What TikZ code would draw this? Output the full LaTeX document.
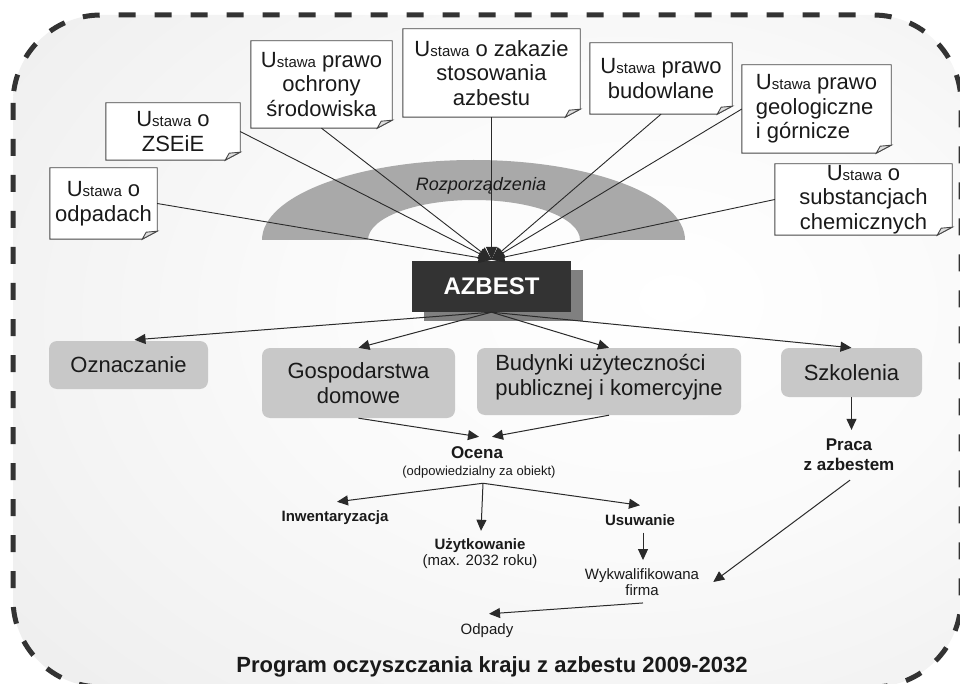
\documentclass[tikz,border=0pt]{standalone}
\usepackage{fontspec}
\setmainfont{Liberation Sans}
\usetikzlibrary{arrows.meta,shadows,backgrounds,calc}
\definecolor{dashcol}{HTML}{333333}
\definecolor{boxgray}{HTML}{C8C8C8}
\definecolor{ringgray}{HTML}{A9A9A9}
\definecolor{ink}{HTML}{1A1A1A}
\definecolor{azdark}{HTML}{333333}
\definecolor{azshadow}{HTML}{808080}
\definecolor{linecol}{HTML}{2A2A2A}
\pgfdeclareradialshading{bgshade}{\pgfpoint{10bp}{4bp}}{color(0bp)=(white); color(18bp)=(white!98!black); color(50bp)=(white!91!black); color(75bp)=(white!89!black)}
\newcommand{\Ust}{U{\fontsize{15}{15}\selectfont stawa}}
\newcommand{\noteoutline}[1]{%
  \draw[noteline] (#1.north west) -- (#1.north east) -- ($(#1.south east)+(0,-8)$) -- ($(#1.south east)+(-15,0)$) -- (#1.south west) -- cycle;
  \draw[noteline, fill=black!12] ($(#1.south east)+(-15,0)$) -- ($(#1.south east)+(-11,-7)$) -- ($(#1.south east)+(0,-8)$) -- cycle;}
\begin{document}
\begin{tikzpicture}[x=1pt,y=-1pt,
  notebox/.style={inner sep=0pt, align=center, text=ink, font=\fontsize{22}{24.5}\selectfont},
  noteline/.style={draw=black!72, line width=0.9pt, fill=white},
  catbox/.style={fill=boxgray, rounded corners=8pt, inner sep=0pt, text=ink, font=\fontsize{22}{25}\selectfont, align=center},
  lbl/.style={inner sep=0pt, text=ink, align=center},
  arr/.style={draw=linecol, line width=1pt, -{Triangle[length=11pt,width=10pt]}},
  lawarr/.style={draw=linecol, line width=0.9pt, -{Triangle[length=13pt,width=11pt]}},
]
\useasboundingbox (0,0) rectangle (960,684);

% background frame
\begin{scope}[on background layer]
  \shade[shading=bgshade, rounded corners=88pt] (13,15) rectangle (961,687);
  \draw[draw=dashcol, line width=5pt, dash pattern=on 17pt off 19pt, rounded corners=88pt] (13,15) rectangle (961,687);
  % ring
  \fill[ringgray] (262,240) arc[start angle=180, end angle=0, x radius=211.5pt, y radius=80pt]
     -- (580,240) arc[start angle=0, end angle=180, x radius=106pt, y radius=40pt] -- cycle;
\end{scope}
\node[inner sep=0pt, text=ink, font=\fontsize{18}{18}\selectfont\itshape] (rz) at (481,186) {Rozporządzenia};

% notes
\node[notebox, minimum width=107pt, minimum height=71pt] (n1) at (103.5,203.5) {\Ust{} o\\odpadach};
\node[notebox, minimum width=134pt, minimum height=57pt] (n2) at (173,131.5) {\Ust{} o\\ZSEiE};
\node[notebox, minimum width=141pt, minimum height=87pt] (n3) at (321.5,84.5) {\Ust{} prawo\\ochrony\\środowiska};
\node[notebox, minimum width=177pt, minimum height=88pt] (n4) at (491.5,73) {\Ust{} o zakazie\\stosowania\\azbestu};
\node[notebox, minimum width=142pt, minimum height=71pt] (n5) at (661,78.5) {\Ust{} prawo\\budowlane};
\node[notebox, align=left, minimum width=149pt, minimum height=88pt] (n6) at (816.5,109) {\Ust{} prawo\\geologiczne\\i górnicze};
\node[notebox, minimum width=177pt, minimum height=71pt] (n7) at (863.5,199.5) {\Ust{} o\\substancjach\\chemicznych};
\begin{scope}[on background layer]
  \noteoutline{n1}\noteoutline{n2}\noteoutline{n3}\noteoutline{n4}
  \noteoutline{n5}\noteoutline{n6}\noteoutline{n7}
\end{scope}

% AZBEST
\node[fill=azdark, text=white, font=\fontsize{24}{24}\selectfont\bfseries, minimum width=159pt, minimum height=51pt, inner sep=0pt,
  general shadow={fill=azshadow, shadow xshift=12pt, shadow yshift=-9pt}] (az) at (491.5,286.5) {AZBEST};

% categories
\node[catbox, minimum width=159pt, minimum height=48pt] (oz) at (128.5,365) {Oznaczanie};
\node[catbox, minimum width=193pt, minimum height=70pt] (gd) at (358.5,383) {Gospodarstwa\\domowe};
\node[catbox, minimum width=264pt, minimum height=67pt, align=left, text depth=13pt] (bu) at (609,381.5) {Budynki użyteczności\\publicznej i komercyjne};
\node[catbox, minimum width=141pt, minimum height=49pt] (sz) at (851.5,372.5) {Szkolenia};

% small labels
\node[lbl, font=\fontsize{17}{17}\selectfont\bfseries] (oc) at (477,453) {Ocena};
\node[lbl, font=\fontsize{13}{13}\selectfont] (ocd) at (479,472) {(odpowiedzialny za obiekt)};
\node[lbl, font=\fontsize{15}{15}\selectfont\bfseries] (inw) at (335,518) {Inwentaryzacja};
\node[lbl, font=\fontsize{15}{15}\selectfont\bfseries] (uz) at (480,546) {Użytkowanie};
\node[lbl, font=\fontsize{15}{15}\selectfont] (uzd) at (480,562) {(max. 2032 roku)};
\node[lbl, font=\fontsize{15}{15}\selectfont\bfseries] (us) at (640,520) {Usuwanie};
\node[lbl, font=\fontsize{15}{16.5}\selectfont] (wk) at (642,582) {Wykwalifikowana\\firma};
\node[lbl, font=\fontsize{15}{15}\selectfont] (od) at (487,631) {Odpady};
\node[lbl, font=\fontsize{17}{20}\selectfont\bfseries] (pz) at (849,455) {Praca\\z azbestem};
\node[lbl, font=\fontsize{22}{22}\selectfont\bfseries] (tt) at (492,667) {Program oczyszczania kraju z azbestu 2009-2032};

% connectors: laws -> AZBEST
\coordinate (azt) at ($(az.north)+(0,-1)$);
\foreach \n/\a in {n1/east, n2/east, n3/south, n4/south, n5/south, n6/west, n7/west}
  \draw[lawarr] (\n.\a) -- (azt);

% AZBEST -> categories
\draw[arr] (az.south) -- ($(oz.north)+(6,-1)$);
\draw[arr] (az.south) -- (gd.north);
\draw[arr] (az.south) -- (bu.north);
\draw[arr] (az.south) -- (sz.north);

% to Ocena
\draw[arr] (gd.south) -- ($(oc.north)+(2,-10)$);
\draw[arr] (bu.south) -- ($(oc.north)+(15,-10)$);

% from Ocena
\draw[arr] ($(ocd.south)+(4,5)$) -- ($(inw.north)+(2,-9)$);
\draw[arr] ($(ocd.south)+(4,5)$) -- ($(uz.north)+(1,-8)$);
\draw[arr] ($(ocd.south)+(4,5)$) -- ($(us.north)+(0,-9)$);

% removal chain
\draw[arr] ($(us.south)+(3,7)$) -- ($(wk.north)+(1,-8)$);
\draw[arr] ($(wk.south)+(1,7)$) -- ($(od.north)+(2,-10)$);

% training chain
\draw[arr] (sz.south) -- ($(pz.north)+(2.5,-9)$);
\draw[arr] ($(pz.south)+(1,9)$) -- ($(wk.east)+(14,0)$);
\end{tikzpicture}
\end{document}
